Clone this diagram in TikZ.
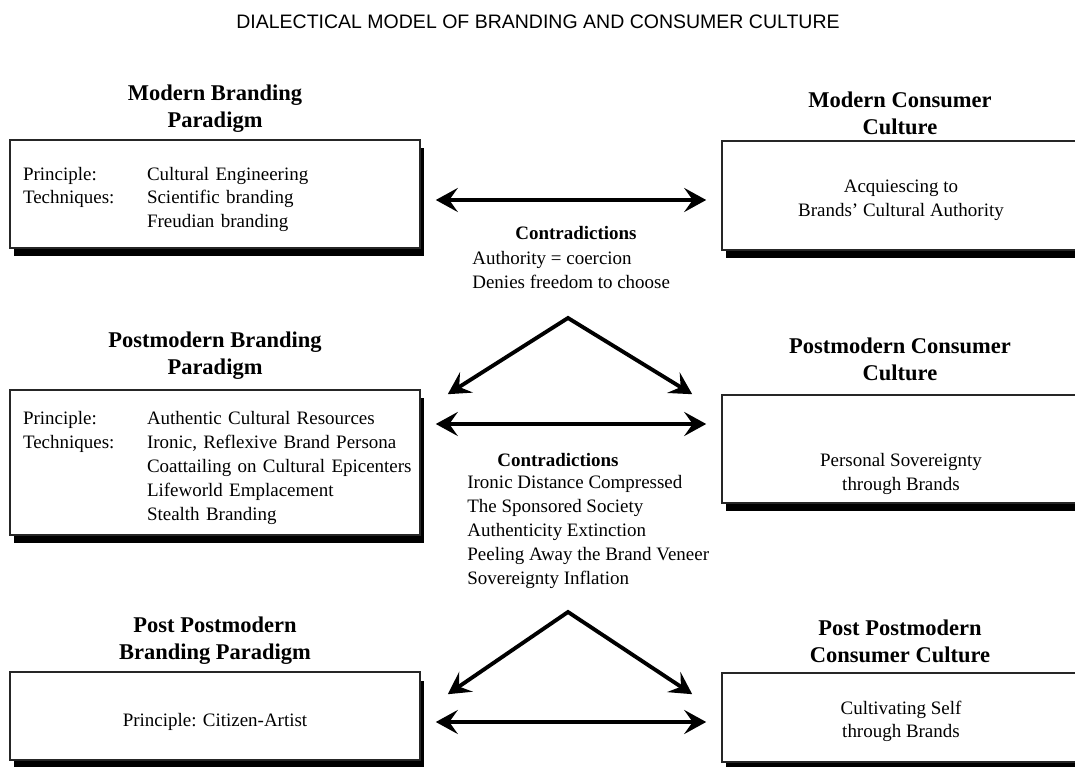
\documentclass[tikz,border=0pt]{standalone}
\usepackage{fontspec}
\setmainfont{Liberation Serif}
\newfontfamily\titlefont{Liberation Sans}
\usetikzlibrary{arrows.meta, positioning, calc, shadows}
\newcommand\padtop[1]{\rule{0pt}{#1}}

\begin{document}
\begin{tikzpicture}[
  every node/.style={font=\fontsize{10.8}{13.6}\selectfont},
  box/.style={
    draw=black!85, line width=0.9pt, fill=white,
    drop shadow={shadow xshift=0.08cm, shadow yshift=-0.17cm, opacity=1, fill=black},
    inner sep=0pt
  },
  brandbox/.style={box, text width=7.9cm, inner xsep=0.15cm, align=left},
  culturebox/.style={box, minimum width=7.16cm, align=center},
  heading/.style={font=\fontsize{12.8}{15.3}\selectfont\bfseries, align=center, inner sep=0pt},
  contra/.style={font=\fontsize{10.8}{13.6}\selectfont\bfseries, inner sep=0pt},
  contralist/.style={align=left, inner sep=0pt},
  dblarrow/.style={{Stealth[length=4.4mm, width=4.8mm, inset=1.7mm]}-{Stealth[length=4.4mm, width=4.8mm, inset=1.7mm]},
    line width=2.2pt, line join=miter, shorten <=0.3cm, shorten >=0.3cm},
  forkarrow/.style={{Stealth[length=4.4mm, width=4.8mm, inset=1.7mm]}-{Stealth[length=4.4mm, width=4.8mm, inset=1.7mm]},
    line width=2.2pt, line join=miter}
]
  \clip (0,0) rectangle (21.5,-15.34);

  % Title
  \node[font=\titlefont\fontsize{11.1}{13}\selectfont] (title) at (10.76,-0.44)
    {DIALECTICAL MODEL OF BRANDING AND CONSUMER CULTURE};

  % Left column: branding paradigms
  \node[brandbox, minimum height=2.16cm] (mb) at (4.3,-3.88) {%
    \begin{tabular}{@{\hspace{0.11cm}}p{2.48cm}@{}l@{}}
      \padtop{0.54cm}Principle: & Cultural Engineering\\
      Techniques: & Scientific branding\\
                  & Freudian branding
    \end{tabular}};
  \node[brandbox, minimum height=2.9cm] (pb) at (4.3,-9.25) {%
    \begin{tabular}{@{\hspace{0.11cm}}p{2.48cm}@{}l@{}}
      \padtop{0.54cm}Principle: & Authentic Cultural Resources\\
      Techniques: & Ironic, Reflexive Brand Persona\\
                  & Coattailing on Cultural Epicenters\\
                  & Lifeworld Emplacement\\
                  & Stealth Branding
    \end{tabular}};
  \node[box, minimum width=8.2cm, minimum height=1.76cm] (ppb) at (4.3,-14.32)
    {\padtop{0.5cm}Principle: Citizen-Artist};

  \node[heading] (mbh) at (4.3,-2.17) {Modern Branding\\Paradigm};
  \node[heading] (pbh) at (4.3,-7.12) {Postmodern Branding\\Paradigm};
  \node[heading] (ppbh) at (4.3,-12.81) {Post Postmodern\\Branding Paradigm};

  % Right column: consumer cultures
  \node[culturebox, minimum height=2.18cm] (mc) at (18.02,-3.91)
    {\padtop{0.44cm}Acquiescing to\\Brands' Cultural Authority};
  \node[culturebox, minimum height=2.16cm] (pc) at (18.02,-8.98)
    {\padtop{1.26cm}Personal Sovereignty\\through Brands};
  \node[culturebox, minimum height=1.78cm] (ppc) at (18.02,-14.35)
    {\padtop{0.42cm}Cultivating Self\\through Brands};

  \node[heading] (mch) at (18.0,-2.27) {Modern Consumer\\Culture};
  \node[heading] (pch) at (18.0,-7.19) {Postmodern Consumer\\Culture};
  \node[heading] (ppch) at (18.0,-12.83) {Post Postmodern\\Consumer Culture};

  % Contradictions
  \node[contra] (c1) at (11.52,-4.66) {Contradictions};
  \node[contralist, anchor=north west] (c1l) at (9.44,-5.02)
    {Authority = coercion\\Denies freedom to choose};
  \node[contra] (c2) at (11.16,-9.2) {Contradictions};
  \node[contralist, anchor=north west] (c2l) at (9.34,-9.5)
    {Ironic Distance Compressed\\The Sponsored Society\\Authenticity Extinction\\Peeling Away the Brand Veneer\\Sovereignty Inflation};

  % Fork points
  \coordinate (apex1) at (11.36,-6.36);
  \coordinate (apex2) at (11.36,-12.24);
  \coordinate (t1l) at ($(pb.north east)+(0.54,-0.1)$);
  \coordinate (t1r) at ($(pc.north west)+(-0.58,0)$);
  \coordinate (t2l) at ($(ppb.north east)+(0.54,-0.46)$);
  \coordinate (t2r) at ($(ppc.north west)+(-0.58,-0.44)$);

  % Horizontal double arrows
  \draw[dblarrow] ([yshift=-0.12cm]mb.east) -- ([yshift=-0.12cm]mb.east -| mc.west);
  \draw[dblarrow] ([yshift=0.77cm]pb.east) -- ([yshift=0.77cm]pb.east -| pc.west);
  \draw[dblarrow] ([yshift=-0.12cm]ppb.east) -- ([yshift=-0.12cm]ppb.east -| ppc.west);

  % Forks
  \draw[forkarrow] (t1l) -- (apex1) -- (t1r);
  \draw[forkarrow] (t2l) -- (apex2) -- (t2r);

\end{tikzpicture}
\end{document}
